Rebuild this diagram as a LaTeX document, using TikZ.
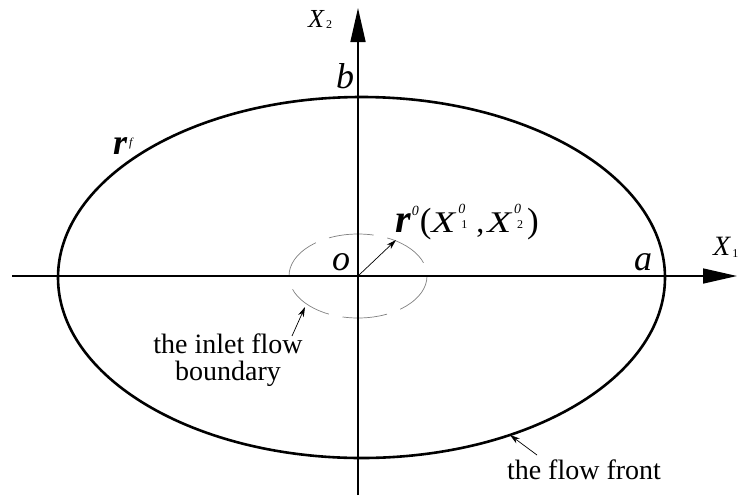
\documentclass[tikz,border=0pt]{standalone}
\usepackage{fontspec}
\usepackage{graphicx}
\setmainfont{Liberation Serif}
\usetikzlibrary{arrows.meta}
\newcommand{\fs}[1]{\fontsize{#1}{#1}\selectfont}
\newcommand{\supsub}[2]{\rlap{\raisebox{19pt}{\fs{14}\itshape #1}}\raisebox{4pt}{\hspace{3pt}\fs{12}\upshape #2}}
\newcommand{\wideX}{{\fs{30}\itshape\scalebox{1.3}[1]{X}}}
\begin{document}
\begin{tikzpicture}[x=1pt,y=-1pt,
  axis/.style={line width=1.6pt,-{Triangle[length=34pt,width=15pt]}},
  front/.style={line width=2.6pt},
  inlet/.style={line width=0.7pt,draw=black!50,dash pattern=on 45pt off 14pt},
  leader/.style={line width=0.7pt,-{Stealth[length=10pt,width=6pt]}},
  lbl/.style={inner sep=0pt,font=\fs{28}},
  mlbl/.style={inner sep=0pt,font=\fs{36}\itshape}]
\useasboundingbox (0,0) rectangle (749,499);
\coordinate (O) at (358,276);
\coordinate (xs) at (12,276);
\coordinate (xe) at (737,276);
\coordinate (ys) at (358,495);
\coordinate (ye) at (358,8);
% flow front
\draw[front] (361.5,277.5) ellipse [x radius=303.5, y radius=180.5];
% inlet boundary
\draw[inlet] (O) ellipse [x radius=69, y radius=42];
% axes
\draw[axis] (xs) -- (xe);
\draw[axis] (ys) -- (ye);
% radius arrow
\coordinate (rp) at (396,240);
\draw[leader] (O) -- (rp);
% labels
\node[mlbl] (b) at (345,76) {b};
\node[mlbl] (o) at (341,262) {o};
\node[mlbl] (a) at (643,262) {a};
\node[mlbl,anchor=west] (rf) at (113,146) {\bfseries r\raisebox{8pt}{\fs{12}\mdseries\itshape\,f}};
\node[inner sep=0pt,anchor=west] (X2) at (308,19) {\fs{26}\itshape X\raisebox{-1pt}{\fs{12}\upshape\,2}};
\node[inner sep=0pt,anchor=west] (X1) at (713,247) {\fs{28}\itshape X\raisebox{-2pt}{\fs{12}\upshape\,1}};
\node[inner sep=0pt,anchor=base west] (r0) at (395,232) {{\fs{40}\bfseries\itshape r}\hspace{1pt}\raisebox{17pt}{\fs{14}\itshape 0}\hspace{1pt}{\fs{35}\upshape(}\wideX\hspace{3pt}\supsub{0}{1}\hspace{9pt}{\fs{32}\upshape,}\hspace{3pt}\wideX\hspace{3pt}\supsub{0}{2}\hspace{4pt}{\fs{35}\upshape)}};
\node[lbl,align=center,font=\fs{28}\linespread{0.96}\selectfont] (inl) at (228,360) {the inlet flow\\boundary};
\node[lbl] (ff) at (584,470) {the flow front};
% leaders
\coordinate (inlt) at (292,336);
\coordinate (inlh) at (305,307);
\draw[leader] (inlt) -- (inlh);
\coordinate (fft) at (537,455);
\coordinate (ffh) at (510,435);
\draw[leader] (fft) -- (ffh);
\end{tikzpicture}
\end{document}
